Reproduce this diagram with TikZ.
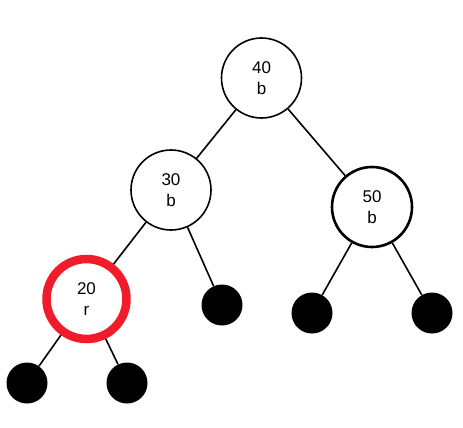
\documentclass[tikz,border=0pt]{standalone}
\usepackage{fontspec}
\setmainfont{Liberation Sans}
\usepackage{xcolor}
\usetikzlibrary{positioning}
\definecolor{rbred}{RGB}{240,28,42}

\begin{document}
\begin{tikzpicture}[
  x=1pt, y=-1pt,
  every node/.style={font=\fontsize{17}{21}\selectfont},
  key/.style   ={draw, circle, line width=1.6pt, fill=white,
                 minimum size=80pt, inner sep=0pt, align=center},
  keythk/.style={key, line width=2.6pt},
  keyred/.style={key, draw=rbred, line width=8.5pt, minimum size=80pt},
  nil/.style   ={circle, fill=black, minimum size=41pt, inner sep=0pt},
  edge/.style  ={line width=1.6pt}
]
\useasboundingbox (0,0) rectangle (463,428);

%% ---- Inner nodes -------------------------------------------------
\node[key]    (n40) at (261.5,78)  {40\\b};
\node[key]    (n30) at (171,190)   {30\\b};
\node[keythk] (n50) at (372,207)   {50\\b};
\node[keyred] (n20) at (86.5,299)  {20\\r};

%% ---- Leaves ------------------------------------------------------
\node[nil] (l30)  at (222,305) {};
\node[nil] (l50a) at (312,313) {};
\node[nil] (l50b) at (432,313) {};
\node[nil] (l20a) at (27,383)  {};
\node[nil] (l20b) at (127,383) {};

%% ---- Edges -------------------------------------------------------
\draw[edge] (n40) -- (n30);
\draw[edge] (n40) -- (n50);
\draw[edge] (n30) -- (n20);
\draw[edge] (n30) -- (l30);
\draw[edge] (n50) -- (l50a);
\draw[edge] (n50) -- (l50b);
\draw[edge] (n20) -- (l20a);
\draw[edge] (n20) -- (l20b);

\end{tikzpicture}
\end{document}
